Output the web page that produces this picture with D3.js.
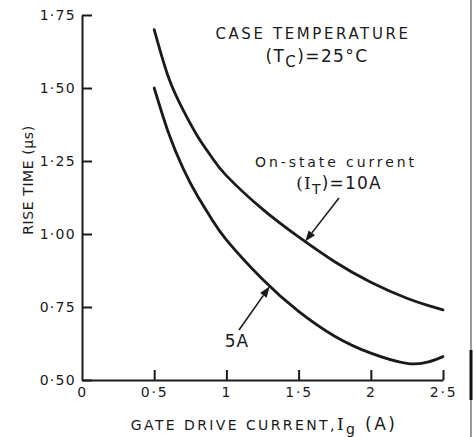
<!DOCTYPE html>
<html>
<head>
<meta charset="utf-8">
<script src="https://cdn.jsdelivr.net/npm/d3@7/dist/d3.min.js"></script>
<style>
  html, body { margin: 0; padding: 0; background: #fff; }
  svg { display: block; }
  text { font-family: "DejaVu Sans", "Noto Sans", sans-serif; fill: #1a1a1a; }
</style>
</head>
<body>
<svg id="chart" width="474" height="437"></svg>
<script>
// Gate drive current (A) and rise time (µs) for two on-state currents
const gateCurrent = [0.5, 0.6, 0.7, 0.8, 0.9, 1.0, 1.25, 1.5, 1.75, 2.0, 2.25, 2.4, 2.5];
const riseTime10A = [1.70, 1.535, 1.425, 1.335, 1.262, 1.20, 1.085, 0.99, 0.905, 0.835, 0.78, 0.755, 0.74];
const riseTime5A  = [1.50, 1.345, 1.225, 1.13, 1.05, 0.98, 0.845, 0.735, 0.65, 0.592, 0.557, 0.562, 0.58];

const xTicks = [0, 0.5, 1, 1.5, 2, 2.5];
const xTickLabels = ["0", "0·5", "1", "1·5", "2", "2·5"];
const yTicks = [0.5, 0.75, 1.0, 1.25, 1.5, 1.75];
const yTickLabels = ["0·50", "0·75", "1·00", "1·25", "1·50", "1·75"];

const svg = d3.select("#chart");
const ink = "#1a1a1a";

const x = d3.scaleLinear().domain([0, 2.5]).range([82, 443]);
const y = d3.scaleLinear().domain([0.5, 1.75]).range([380, 15]);

// Y axis: ticks point into the plot
const yAxis = d3.axisLeft(y)
  .tickValues(yTicks)
  .tickFormat((d, i) => yTickLabels[i])
  .tickSize(-10)
  .tickSizeOuter(0)
  .tickPadding(6);

const gy = svg.append("g").attr("transform", `translate(${x(0)},0)`).call(yAxis);
gy.select(".domain").attr("stroke", ink).attr("stroke-width", 2);
gy.selectAll(".tick line").attr("stroke", ink).attr("stroke-width", 2);
gy.selectAll(".tick text").attr("font-size", 14).attr("fill", ink)
  .attr("letter-spacing", 1.3)
  .attr("font-family", "DejaVu Sans, sans-serif");

// X axis: ticks point upward into the plot
const xAxis = d3.axisBottom(x)
  .tickValues(xTicks)
  .tickFormat((d, i) => xTickLabels[i])
  .tickSize(-10)
  .tickSizeOuter(0)
  .tickPadding(7);

const gx = svg.append("g").attr("transform", `translate(0,${y(0.5)})`).call(xAxis);
gx.select(".domain").attr("stroke", ink).attr("stroke-width", 2);
gx.selectAll(".tick line").attr("stroke", ink).attr("stroke-width", 2)
  .attr("opacity", d => d === 0 ? 0 : 1);
gx.selectAll(".tick text").attr("font-size", 14).attr("fill", ink)
  .attr("letter-spacing", 1.8)
  .attr("font-family", "DejaVu Sans, sans-serif");

// Curves
const line = d3.line()
  .x(d => x(d[0]))
  .y(d => y(d[1]))
  .curve(d3.curveNatural);

const paths = [riseTime10A, riseTime5A].map(vals =>
  svg.append("path")
    .datum(gateCurrent.map((g, i) => [g, vals[i]]))
    .attr("fill", "none")
    .attr("stroke", ink)
    .attr("stroke-width", 2.8)
    .attr("stroke-linecap", "round")
    .attr("d", line)
);

// Point on a drawn curve at a given gate current
function pointOnCurve(path, gx) {
  const node = path.node();
  const target = x(gx);
  let lo = 0, hi = node.getTotalLength();
  for (let k = 0; k < 40; k++) {
    const mid = (lo + hi) / 2;
    if (node.getPointAtLength(mid).x < target) lo = mid; else hi = mid;
  }
  return node.getPointAtLength(lo);
}

// Axis titles
svg.append("text")
  .attr("transform", "translate(33,180) rotate(-90)")
  .attr("text-anchor", "middle")
  .attr("font-size", 14)
  .attr("letter-spacing", 0.6)
  .text("RISE TIME (µs)");

const xt = svg.append("text")
  .attr("x", 264).attr("y", 430)
  .attr("text-anchor", "middle")
  .attr("font-size", 14)
  .attr("letter-spacing", 2.4);
xt.append("tspan").text("GATE DRIVE CURRENT,");
xt.append("tspan").attr("font-family", "DejaVu Serif, serif").attr("font-size", 17).text("I");
xt.append("tspan").attr("dy", 4).attr("font-size", 14).text("g");
xt.append("tspan").attr("dy", -4).attr("font-size", 17).text(" (A)");

// Case temperature note
svg.append("text")
  .attr("x", 313).attr("y", 39)
  .attr("text-anchor", "middle")
  .attr("font-size", 15)
  .attr("letter-spacing", 2.6)
  .text("CASE TEMPERATURE");

const tc = svg.append("text")
  .attr("x", 317).attr("y", 62)
  .attr("text-anchor", "middle")
  .attr("font-size", 17)
  .attr("letter-spacing", 1.4);
tc.append("tspan").text("(T");
tc.append("tspan").attr("dy", 5).attr("font-size", 15).text("C");
tc.append("tspan").attr("dy", -5).text(")=25°C");

// 10 A annotation
svg.append("text")
  .attr("x", 336).attr("y", 167)
  .attr("text-anchor", "middle")
  .attr("font-size", 14)
  .attr("letter-spacing", 2.9)
  .text("On-state current");

const it = svg.append("text")
  .attr("x", 339).attr("y", 189)
  .attr("text-anchor", "middle")
  .attr("font-size", 17)
  .attr("letter-spacing", 1.2);
it.append("tspan").attr("font-family", "DejaVu Serif, serif").text("(I");
it.append("tspan").attr("dy", 5).attr("font-size", 14).text("T");
it.append("tspan").attr("dy", -5).text(")=10A");

svg.append("text")
  .attr("x", 237).attr("y", 347)
  .attr("text-anchor", "middle")
  .attr("font-size", 17)
  .attr("letter-spacing", 1)
  .text("5A");

// Arrows pointing at the curves
function arrow(x1, y1, tip) {
  const ang = Math.atan2(tip.y - y1, tip.x - x1);
  const len = 11, half = 4;
  const bx = tip.x - len * Math.cos(ang), by = tip.y - len * Math.sin(ang);
  svg.append("line")
    .attr("x1", x1).attr("y1", y1).attr("x2", bx).attr("y2", by)
    .attr("stroke", ink).attr("stroke-width", 1.6);
  const px = -Math.sin(ang) * half, py = Math.cos(ang) * half;
  svg.append("path")
    .attr("d", `M${tip.x},${tip.y}L${bx + px},${by + py}L${bx - px},${by - py}Z`)
    .attr("fill", ink);
}
arrow(339, 198, pointOnCurve(paths[0], 1.545));
arrow(239, 330, pointOnCurve(paths[1], 1.30));

// Page edge line on the right
svg.append("line")
  .attr("x1", 471).attr("y1", 0).attr("x2", 471).attr("y2", 437)
  .attr("stroke", "#555").attr("stroke-width", 1.2);
svg.append("line")
  .attr("x1", 471).attr("y1", 350).attr("x2", 471).attr("y2", 400)
  .attr("stroke", "#111").attr("stroke-width", 3);
</script>
</body>
</html>
